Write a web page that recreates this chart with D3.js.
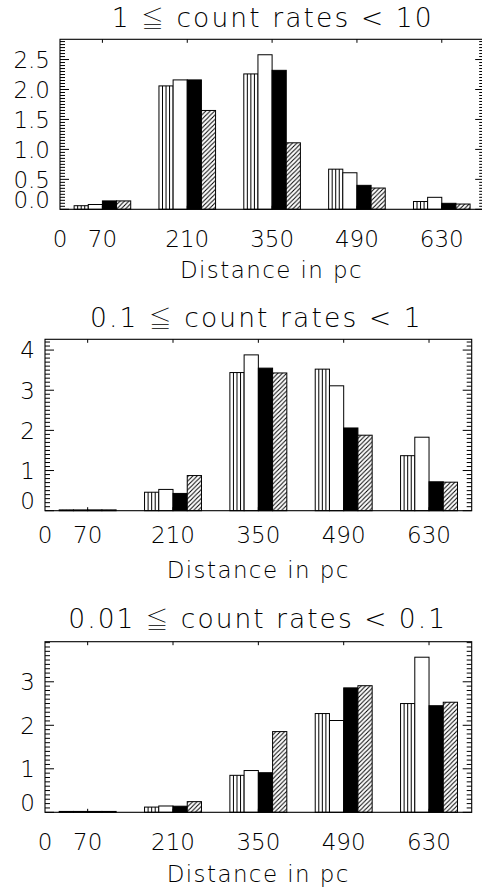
<!DOCTYPE html>
<html>
<head>
<meta charset="utf-8">
<script src="https://cdn.jsdelivr.net/npm/d3@7"></script>
<style>
  html, body { margin: 0; padding: 0; background: #fff; }
  svg { display: block; }
  text { font-family: "DejaVu Sans", "Liberation Sans", sans-serif; font-weight: 200; fill: #000; }
  tspan.sym { font-family: "Noto Sans CJK JP", "Noto Sans CJK SC", "DejaVu Sans"; font-weight: 100; font-size: 22.5px; }
</style>
</head>
<body>
<svg id="chart" width="482" height="888"></svg>
<script>
// ---- data ----
const categories = [70, 210, 350, 490, 630];
const xTickValues = [0, 70, 210, 350, 490, 630];
const seriesNames = ["vertical", "open", "filled", "hatched"];

// titles split as [left part, relation symbol, right part]
const titleLeft  = ["1 ", "0.1 ", "0.01 "];
const titleSym   = "\u2266";
const titleRight = [" count rates < 10", " count rates < 1", " count rates < 0.1"];
const xAxisTitle = "Distance in pc";

// panel 1 : 1 <= count rates < 10
const p1Vertical = [0.06, 2.06, 2.26, 0.67, 0.13];
const p1Open     = [0.08, 2.16, 2.58, 0.61, 0.20];
const p1Filled   = [0.14, 2.16, 2.32, 0.40, 0.10];
const p1Hatched  = [0.14, 1.65, 1.11, 0.355, 0.088];
const p1YTicks   = [0.0, 0.5, 1.0, 1.5, 2.0, 2.5];

// panel 2 : 0.1 <= count rates < 1
const p2Vertical = [0.02, 0.46, 3.44, 3.525, 1.37];
const p2Open     = [0.02, 0.53, 3.88, 3.11, 1.83];
const p2Filled   = [0.02, 0.43, 3.55, 2.06, 0.72];
const p2Hatched  = [0.02, 0.875, 3.43, 1.88, 0.71];
const p2YTicks   = [0, 1, 2, 3, 4];

// panel 3 : 0.01 <= count rates < 0.1
const p3Vertical = [0.02, 0.12, 0.85, 2.27, 2.50];
const p3Open     = [0.02, 0.145, 0.96, 2.11, 3.565];
const p3Filled   = [0.02, 0.14, 0.91, 2.86, 2.45];
const p3Hatched  = [0.02, 0.245, 1.855, 2.91, 2.53];
const p3YTicks   = [0, 1, 2, 3];

// ---- layout ----
const panels = [
  { series: [p1Vertical, p1Open, p1Filled, p1Hatched], yTicks: p1YTicks, minorStep: 0.05, fmt: d3.format(".1f"),
    left: 60, right: 484.2, top: 39.3, bottom: 209.3, titleBase: 26.7, titleCx: 271.7, titleW: 320,
    tickBase: 246.7, xTitleBase: 278.3, xTitleCx: 270.8, yLabelX: 50 },
  { series: [p2Vertical, p2Open, p2Filled, p2Hatched], yTicks: p2YTicks, minorStep: 0.1, fmt: d3.format("d"),
    left: 45, right: 471.7, top: 339.3, bottom: 510.7, titleBase: 327.3, titleCx: 255.3, titleW: 330.7,
    tickBase: 543.3, xTitleBase: 578.3, xTitleCx: 257.5, yLabelX: 35 },
  { series: [p3Vertical, p3Open, p3Filled, p3Hatched], yTicks: p3YTicks, minorStep: 0.1, fmt: d3.format("d"),
    left: 45, right: 471.7, top: 641.7, bottom: 812.3, titleBase: 628.3, titleCx: 256.7, titleW: 376.7,
    tickBase: 849.5, xTitleBase: 881.7, xTitleCx: 257.5, yLabelX: 35 }
];

const svg = d3.select("#chart");
svg.append("rect").attr("width", 482).attr("height", 888).attr("fill", "#fff");

const defs = svg.append("defs");
const hs = 4.4;
const hatch = defs.append("pattern")
  .attr("id", "diag").attr("patternUnits", "userSpaceOnUse")
  .attr("width", hs).attr("height", hs);
hatch.append("rect").attr("width", hs).attr("height", hs).attr("fill", "#fff");
hatch.append("path").attr("d", `M-1,1 L1,-1 M0,${hs} L${hs},0 M${hs-1},${hs+1} L${hs+1},${hs-1}`)
  .attr("stroke", "#000").attr("stroke-width", 1);

const barHalfSpan = 46.7; // data units, half of a group's width

panels.forEach((p, pi) => {
  const allVals = p.series.flat();
  const yMax = d3.max(allVals) * 1.1;
  const x = d3.scaleLinear().domain([0, 700]).range([p.left, p.right]);
  const y = d3.scaleLinear().domain([0, yMax]).range([p.bottom, p.top]);
  const g = svg.append("g");

  // bars
  const bw = (2 * barHalfSpan) / 4;
  p.series.forEach((vals, si) => {
    vals.forEach((v, ci) => {
      const x0 = x(categories[ci] - barHalfSpan + si * bw);
      const x1 = x(categories[ci] - barHalfSpan + (si + 1) * bw);
      const y0 = y(v);
      const h = p.bottom - y0;
      const kind = seriesNames[si];
      let fill = "#fff";
      if (kind === "filled") fill = "#000";
      if (kind === "hatched") fill = "url(#diag)";
      g.append("rect").attr("x", x0).attr("y", y0).attr("width", x1 - x0).attr("height", h)
        .attr("fill", fill).attr("stroke", "#000").attr("stroke-width", 1);
      if (kind === "vertical") {
        for (let k = 1; k < 4; k++) {
          const xx = x0 + (x1 - x0) * k / 4;
          g.append("line").attr("x1", xx).attr("x2", xx).attr("y1", y0).attr("y2", p.bottom)
            .attr("stroke", "#000").attr("stroke-width", 1);
        }
      }
    });
  });

  // frame
  g.append("rect").attr("x", p.left).attr("y", p.top).attr("width", p.right - p.left).attr("height", p.bottom - p.top)
    .attr("fill", "none").attr("stroke", "#000").attr("stroke-width", 1.1);

  // y ticks (left and right, major + minor)
  const minors = d3.range(0, yMax + 1e-9, p.minorStep);
  minors.forEach(v => {
    const isMajor = p.yTicks.some(t => Math.abs(t - v) < 1e-6);
    const len = isMajor ? 9 : 5;
    const yy = y(v);
    g.append("line").attr("x1", p.left).attr("x2", p.left + len).attr("y1", yy).attr("y2", yy)
      .attr("stroke", "#000").attr("stroke-width", 1);
    g.append("line").attr("x1", p.right).attr("x2", p.right - len).attr("y1", yy).attr("y2", yy)
      .attr("stroke", "#000").attr("stroke-width", 1);
  });

  // x ticks top and bottom
  categories.forEach(c => {
    g.append("line").attr("x1", x(c)).attr("x2", x(c)).attr("y1", p.top).attr("y2", p.top + 3.5)
      .attr("stroke", "#000").attr("stroke-width", 1);
    g.append("line").attr("x1", x(c)).attr("x2", x(c)).attr("y1", p.bottom).attr("y2", p.bottom - 3.5)
      .attr("stroke", "#000").attr("stroke-width", 1);
  });

  // y labels
  p.yTicks.forEach(t => {
    g.append("text").attr("x", p.yLabelX).attr("y", Math.min(y(t) + 8.3, p.bottom - 1.5))
      .attr("text-anchor", "end").attr("font-size", 23).text(p.fmt(t));
  });

  // x labels
  xTickValues.forEach(t => {
    g.append("text").attr("x", x(t)).attr("y", p.tickBase)
      .attr("text-anchor", "middle").attr("font-size", 23).text(t);
  });

  // x axis title
  g.append("text").attr("x", p.xTitleCx).attr("y", p.xTitleBase)
    .attr("text-anchor", "middle").attr("font-size", 23)
    .attr("textLength", 181.7).attr("lengthAdjust", "spacing").text(xAxisTitle);

  // title
  const tt = g.append("text").attr("x", p.titleCx).attr("y", p.titleBase)
    .attr("text-anchor", "middle").attr("font-size", 26.5)
    .attr("textLength", p.titleW).attr("lengthAdjust", "spacing");
  tt.append("tspan").text(titleLeft[pi]);
  tt.append("tspan").attr("class", "sym").text(titleSym);
  tt.append("tspan").text(titleRight[pi]);
});
</script>
</body>
</html>
